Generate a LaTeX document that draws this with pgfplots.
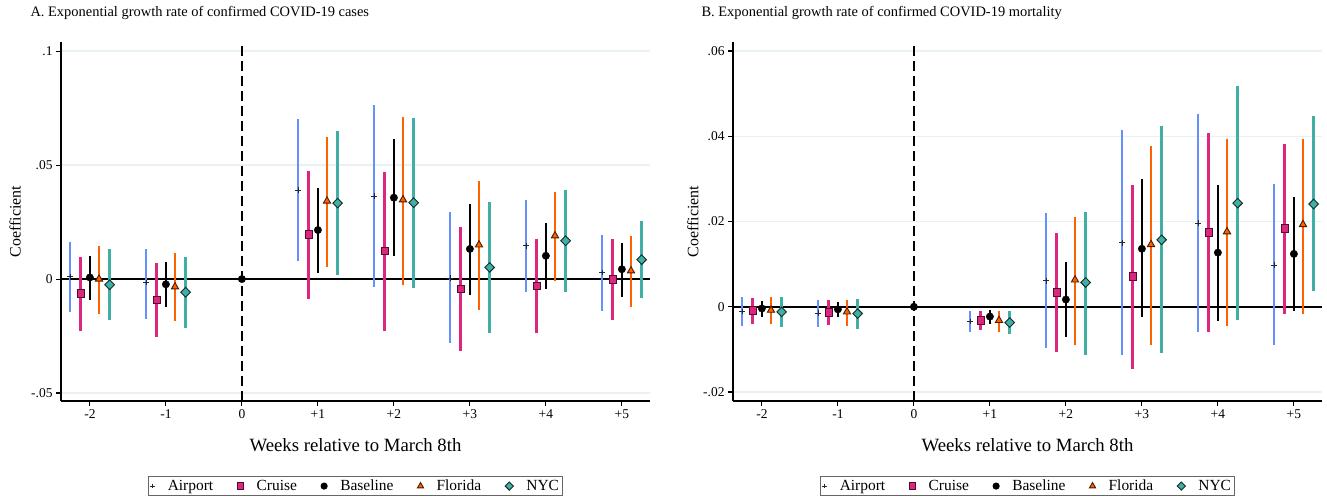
\documentclass[border=0pt]{standalone}
\usepackage{fontspec}
\setmainfont{Liberation Serif}
\usepackage{pgfplots}
\usepackage{pgfplotstable}
\pgfplotsset{compat=1.18}

\definecolor{cAir}{RGB}{100,143,255}
\definecolor{cCru}{RGB}{220,38,127}
\definecolor{cFla}{RGB}{254,97,0}
\definecolor{cNyc}{RGB}{64,176,166}
\definecolor{gridc}{RGB}{234,241,243}

% panel A: cases
\pgfplotstableread{
w y lo hi
-2 0.0010 -0.0143 0.0164
-1 -0.0016 -0.0175 0.0132
1 0.0390 0.0079 0.0702
2 0.0365 -0.0034 0.0763
3 0.0004 -0.0279 0.0294
4 0.0146 -0.0057 0.0347
5 0.0028 -0.0140 0.0193
}\AAir
\pgfplotstableread{
w y lo hi
-2 -0.0064 -0.0227 0.0096
-1 -0.0092 -0.0254 0.0070
1 0.0196 -0.0088 0.0474
2 0.0123 -0.0228 0.0469
3 -0.0044 -0.0314 0.0228
4 -0.0031 -0.0235 0.0175
5 -0.0003 -0.0180 0.0175
}\ACru
\pgfplotstableread{
w y lo hi
-2 0.0007 -0.0092 0.0101
-1 -0.0023 -0.0123 0.0075
0 0 0 0
1 0.0215 0.0028 0.0398
2 0.0357 0.0102 0.0614
3 0.0132 -0.0069 0.0329
4 0.0102 -0.0044 0.0246
5 0.0043 -0.0079 0.0158
}\ABas
\pgfplotstableread{
w y lo hi
-2 0.0000 -0.0152 0.0145
-1 -0.0034 -0.0184 0.0114
1 0.0342 0.0053 0.0623
2 0.0348 -0.0026 0.0711
3 0.0150 -0.0136 0.0430
4 0.0190 -0.0009 0.0382
5 0.0036 -0.0123 0.0189
}\AFla
\pgfplotstableread{
w y lo hi
-2 -0.0025 -0.0180 0.0132
-1 -0.0058 -0.0215 0.0096
1 0.0333 0.0019 0.0649
2 0.0335 -0.0039 0.0706
3 0.0051 -0.0235 0.0338
4 0.0168 -0.0057 0.0390
5 0.0085 -0.0083 0.0254
}\ANyc

% panel B: mortality
\pgfplotstableread{
w y lo hi
-2 -0.0011 -0.0044 0.0023
-1 -0.0015 -0.0048 0.0016
1 -0.0035 -0.0060 -0.0009
2 0.0061 -0.0097 0.0220
3 0.0150 -0.0114 0.0414
4 0.0196 -0.0058 0.0451
5 0.0098 -0.0090 0.0288
}\BAir
\pgfplotstableread{
w y lo hi
-2 -0.0009 -0.0041 0.0021
-1 -0.0014 -0.0043 0.0016
1 -0.0032 -0.0055 -0.0009
2 0.0034 -0.0107 0.0173
3 0.0071 -0.0147 0.0285
4 0.0174 -0.0060 0.0407
5 0.0183 -0.0018 0.0381
}\BCru
\pgfplotstableread{
w y lo hi
-2 -0.0004 -0.0023 0.0014
-1 -0.0006 -0.0023 0.0011
0 0 0 0
1 -0.0023 -0.0041 -0.0007
2 0.0017 -0.0072 0.0105
3 0.0136 -0.0025 0.0299
4 0.0127 -0.0034 0.0285
5 0.0124 -0.0011 0.0257
}\BBas
\pgfplotstableread{
w y lo hi
-2 -0.0008 -0.0041 0.0023
-1 -0.0012 -0.0046 0.0016
1 -0.0032 -0.0058 -0.0009
2 0.0063 -0.0090 0.0211
3 0.0146 -0.0090 0.0377
4 0.0176 -0.0046 0.0393
5 0.0193 -0.0016 0.0393
}\BFla
\pgfplotstableread{
w y lo hi
-2 -0.0012 -0.0048 0.0023
-1 -0.0016 -0.0051 0.0019
1 -0.0037 -0.0065 -0.0009
2 0.0057 -0.0112 0.0222
3 0.0157 -0.0109 0.0423
4 0.0243 -0.0030 0.0517
5 0.0241 0.0036 0.0447
}\BNyc

\pgfplotsset{
  panel/.style={
    width=589bp, height=359bp, scale only axis,
    xmin=-2.38, xmax=5.37,
    axis x line*=bottom, axis y line*=left,
    axis line style={line width=1.1bp},
    xtick={-2,...,5}, xticklabels={-2,-1,0,+1,+2,+3,+4,+5},
    scaled y ticks=false,
    tick align=outside, major tick length=5bp,
    every tick/.style={black, line width=1.1bp},
    ymajorgrids, major grid style={gridc, line width=1.3bp},
    tick label style={font=\fontsize{13.5}{15}\selectfont},
    xlabel={Weeks relative to March 8th},
    ylabel={Coefficient},
    xlabel style={at={(rel axis cs:0.5,-0.122)}, anchor=center, font=\fontsize{18.8}{20}\selectfont},
    clip=false,
    legend columns=5,
    legend style={at={(0.5,-0.237)}, anchor=center, draw=black!60, line width=0.8bp,
      font=\fontsize{15.5}{17}\selectfont, inner sep=1.5bp,
      /tikz/every odd column/.append style={column sep=11bp},
      /tikz/every even column/.append style={column sep=22bp}},
    legend image post style={scale=0.85},
    error bars/y dir=both, error bars/y explicit, error bars/error mark=none,
  },
  ci/.style={only marks, error bars/error bar style={#1, line width=2.6bp}},
  airport/.style={ci=cAir, mark=+, mark size=2.8bp, black!85, mark options={line width=0.7bp}},
  cruise/.style={ci=cCru, mark=square*, mark size=3.8bp, mark options={fill=cCru, draw=black!65!cCru, line width=0.9bp}},
  baseline/.style={ci=black, mark=*, mark size=3.7bp, mark options={fill=black, draw=black}},
  florida/.style={ci=cFla, mark=triangle*, mark size=4.2bp, mark options={fill=cFla, draw=black!70!cFla, line width=0.9bp}},
  nyc/.style={ci=cNyc, mark=square*, mark size=3.4bp, mark options={rotate=45, fill=cNyc, draw=black!75!cNyc, line width=0.9bp}},
}

\newcommand{\series}[3]{%
  \addplot[#1] table[x expr=\thisrow{w}+#2, y=y,
    y error plus expr=\thisrow{hi}-\thisrow{y},
    y error minus expr=\thisrow{y}-\thisrow{lo}] {#3};}

\begin{document}
\begin{tikzpicture}
\useasboundingbox (0,0) rectangle (1327bp,498bp);

\begin{axis}[panel, at={(61bp,97bp)}, anchor=south west,
    ymin=-0.0535, ymax=0.104,
    ytick={-0.05,0,0.05,0.1}, yticklabels={-.05,0,.05,.1},
    ylabel style={at={(rel axis cs:-0.078,0.5)}, anchor=center, font=\fontsize{16}{18}\selectfont}]
  \draw[black, line width=2.3bp] (axis cs:-2.38,0) -- (axis cs:5.37,0);
  \draw[black, line width=2.3bp, dash pattern=on 10bp off 5bp] (axis cs:0,-0.0535) -- (axis cs:0,0.104);
  \series{airport}{-0.26}{\AAir}
  \addlegendentry{Airport}
  \series{cruise}{-0.12}{\ACru}
  \addlegendentry{Cruise}
  \series{baseline}{0}{\ABas}
  \addlegendentry{Baseline}
  \series{florida}{0.12}{\AFla}
  \addlegendentry{Florida}
  \series{nyc}{0.26}{\ANyc}
  \addlegendentry{NYC}
\end{axis}

\begin{axis}[panel, at={(733bp,97bp)}, anchor=south west,
    ymin=-0.0221, ymax=0.0621,
    ytick={-0.02,0,0.02,0.04,0.06}, yticklabels={-.02,0,.02,.04,.06},
    ylabel style={at={(rel axis cs:-0.068,0.5)}, anchor=center, font=\fontsize{16}{18}\selectfont}]
  \draw[black, line width=2.3bp] (axis cs:-2.38,0) -- (axis cs:5.37,0);
  \draw[black, line width=2.3bp, dash pattern=on 10bp off 5bp] (axis cs:0,-0.0221) -- (axis cs:0,0.0621);
  \series{airport}{-0.26}{\BAir}
  \addlegendentry{Airport}
  \series{cruise}{-0.12}{\BCru}
  \addlegendentry{Cruise}
  \series{baseline}{0}{\BBas}
  \addlegendentry{Baseline}
  \series{florida}{0.12}{\BFla}
  \addlegendentry{Florida}
  \series{nyc}{0.26}{\BNyc}
  \addlegendentry{NYC}
\end{axis}

\node[anchor=west, font=\fontsize{14.5}{16}\selectfont] at (27bp,485bp) {A. Exponential growth rate of confirmed COVID-19 cases};
\node[anchor=west, font=\fontsize{14.5}{16}\selectfont] at (698bp,485bp) {B. Exponential growth rate of confirmed COVID-19 mortality};
\end{tikzpicture}
\end{document}
